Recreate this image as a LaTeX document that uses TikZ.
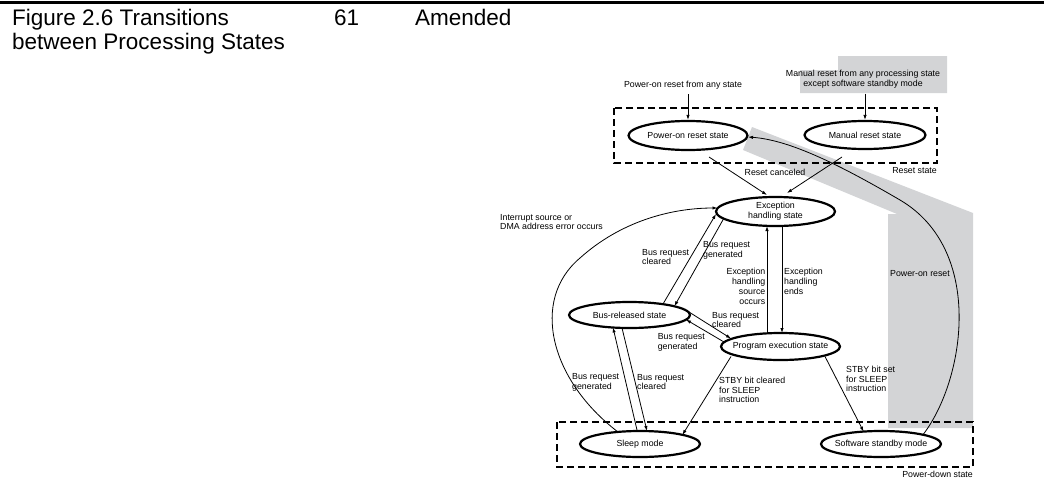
\documentclass[tikz,border=0pt]{standalone}
\usepackage{fontspec}
\setmainfont{Liberation Sans}
\usetikzlibrary{shapes.geometric,arrows.meta,calc}
\definecolor{hl}{RGB}{211,212,214}
\begin{document}
\begin{tikzpicture}[x=1pt,y=-1pt,
  st/.style={ellipse,draw,line width=2.2pt,fill=white,inner xsep=-30pt,inner ysep=0pt,
    minimum width=120pt,minimum height=27pt,font=\fontsize{8.8}{10}\selectfont,align=center},
  lbl/.style={inner sep=0pt,font=\fontsize{8.8}{9.8}\selectfont},
  arr/.style={-{Latex[length=5pt,width=3.4pt]},line width=0.8pt},
  dbox/.style={dash pattern=on 7pt off 4pt,line width=1.3pt},
  hdr/.style={inner sep=0pt,font=\fontsize{22.5}{24}\selectfont,anchor=base west}]
\useasboundingbox (0,0) rectangle (1044,482);
% header
\draw[line width=3.5pt] (0,2.5) -- (1044,2.5);
\node[hdr] (h1) at (12,25) {Figure 2.6 Transitions};
\node[hdr] (h2) at (12,49) {between Processing States};
\node[hdr] (h3) at (334,25) {61};
\node[hdr] (h4) at (415,25) {Amended};
% gray highlights
\fill[hl] (838,56) -- (947,56) -- (947,93) -- (800,93) -- (800,70) -- (838,70) -- cycle;
\fill[hl] (752,127) -- (973,213) -- (973,428) -- (888,428) -- (888,214) -- (897,214) -- (743,150) -- cycle;
% dashed groups
\draw[dbox] (614,108) rectangle (937,163);
\draw[dbox] (557,422) rectangle (973,467);
% states
\node[st,minimum height=29pt,minimum width=119pt] (pr) at (688,135.5) {Power-on reset state};
\node[st,minimum height=28pt,minimum width=121pt] (mr) at (865,135) {Manual reset state};
\node[st,minimum height=29pt,minimum width=119pt] (ex) at (775.5,211.5) {Exception\\handling state};
\node[st,minimum height=26pt,minimum width=121pt] (br) at (629.5,315) {Bus-released state};
\node[st,minimum height=27pt,minimum width=119pt] (pg) at (780.5,346.5) {Program execution state};
\node[st,minimum height=26pt] (sl) at (640,444) {Sleep mode};
\node[st,minimum height=26pt] (sw) at (881,444) {Software standby mode};
% labels
\node[lbl] (lpt) at (683,85) {Power-on reset from any state};
\node[lbl,align=center] (lmt) at (863,79.5) {Manual reset from any processing state\\except software standby mode};
\node[lbl,anchor=east] (lrs) at (937,171) {Reset state};
\node[lbl] (lrc) at (775,172) {Reset canceled};
\node[lbl,anchor=west,align=left] (lint) at (500,222) {Interrupt source or\\DMA address error occurs};
\node[lbl,anchor=west,align=left] (lbc1) at (642,257) {Bus request\\cleared};
\node[lbl,anchor=west,align=left] (lbg1) at (703,250) {Bus request\\generated};
\node[lbl,anchor=east,align=right] (lehs) at (765.5,286.5) {Exception\\handling\\source\\occurs};
\node[lbl,anchor=west,align=left] (lehe) at (784,281.5) {Exception\\handling\\ends};
\node[lbl,anchor=west,align=left] (lbc2) at (712,320) {Bus request\\cleared};
\node[lbl,anchor=east,align=left] (lbg2) at (705,342) {Bus request\\generated};
\node[lbl,anchor=west,align=left] (lbg3) at (572,382) {Bus request\\generated};
\node[lbl,anchor=west,align=left] (lbc3) at (637,382) {Bus request\\cleared};
\node[lbl,anchor=west,align=left] (lsc) at (719,390) {STBY bit cleared\\for SLEEP\\instruction};
\node[lbl,anchor=west,align=left] (lss) at (846,379) {STBY bit set\\for SLEEP\\instruction};
\node[lbl] (lpor) at (920,274) {Power-on reset};
\node[lbl,anchor=east] (lpd) at (973,474) {Power-down state};
% connectors
\draw[arr,shorten <=5pt] (lpt.south -| pr.north) -- (pr.north);
\draw[arr,shorten <=5pt] (lmt.south -| mr.north) -- (mr.north);
\draw[arr] ([shift={(21,21.5)}]pr.center) -- ([shift={(-8.5,-16.5)}]ex.center);
\draw[arr] ([shift={(-23,22)}]mr.center) -- ([shift={(11.5,-18.5)}]ex.center);
\draw[arr] ([shift={(-13.5,-13.5)}]pg.center) -- ([shift={(-8.5,14.5)}]ex.center);
\draw[arr] ([shift={(6.5,14.5)}]ex.center) -- ([shift={(1.5,-13.5)}]pg.center);
\draw[arr] ([shift={(33.5,-11)}]br.center) -- ([shift={(-59.5,2.5)}]ex.center);
\draw[arr] ([shift={(-51.5,6.5)}]ex.center) -- ([shift={(44.9,-8.8)}]br.center);
\draw[arr] ([shift={(59.5,-3)}]br.center) -- ([shift={(-49.5,-8)}]pg.center);
\draw[arr] ([shift={(-56.5,-4.5)}]pg.center) -- ([shift={(56.5,4.6)}]br.center);
\draw[arr] ([shift={(-3,-14)}]sl.center) -- ([shift={(-16.5,12.5)}]br.center);
\draw[arr] ([shift={(-7.5,13)}]br.center) -- ([shift={(7,-13)}]sl.center);
\draw[arr] ([shift={(-49.5,10)}]pg.center) -- ([shift={(42.4,-9.1)}]sl.center);
\draw[arr] ([shift={(44.5,10)}]pg.center) -- ([shift={(-17.4,-12.4)}]sw.center);
\draw[arr] ([shift={(-22,-12)}]sl.center) .. controls (550,380) and (530,300) .. (580,258)
  .. controls (620,222) and (670,208) .. ([shift={(-58,-3.5)}]ex.center);
\draw[arr] ([shift={(42,-9.3)}]sw.center) .. controls (965,380) and (985,250) .. (900,200)
  .. controls (840,165) and (790,140) .. ([shift={(60,1.5)}]pr.center);
\end{tikzpicture}
\end{document}
